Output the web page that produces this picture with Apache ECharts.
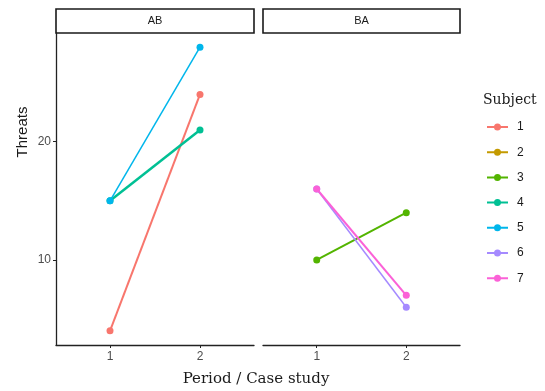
<!DOCTYPE html>
<html><head><meta charset="utf-8">
<script src="https://cdn.jsdelivr.net/npm/echarts@6/dist/echarts.min.js"></script>
<style>html,body{margin:0;padding:0;background:#fff}#c{width:545px;height:391px}</style>
</head><body><div id="c"></div>
<script>
const subjects = ['1','2','3','4','5','6','7'];
const sequences = ['AB','BA'];
const subjectSequence = ['AB', null, 'BA', 'AB', 'AB', 'BA', 'BA'];
const period1 = [4, null, 10, 15, 15, 16, 16];
const period2 = [24, null, 14, 21, 28, 6, 7];
const periodTicks = [1, 2];
const threatTicks = [10, 20];
const colors = ['#F8766D','#C49A00','#53B400','#00C094','#00B6EB','#A58AFF','#FB61D7'];
const lineWidths = [2, 2, 2, 2.5, 1.5, 1.5, 2];

const chart = echarts.init(document.getElementById('c'), null, {renderer:'canvas'});

const grids = [
  {left:56, top:33, width:198, height:312},
  {left:263, top:33, width:197, height:312}
];

const xAxes = sequences.map((s,i)=>({
  type:'value', gridIndex:i, min:0.4, max:2.6,
  axisLine:{show:true, lineStyle:{color:'#222', width:1.3}},
  axisTick:{show:true, length:3, lineStyle:{color:'#222'}, customValues: periodTicks},
  axisLabel:{show:true, color:'#4D4D4D', fontSize:12, fontFamily:'Liberation Sans', margin:6, customValues: periodTicks},
  splitLine:{show:false}
}));
const yAxes = sequences.map((s,i)=>({
  type:'value', gridIndex:i, min:2.8, max:29.2,
  show: i===0,
  axisLine:{show:true, lineStyle:{color:'#222', width:1.3}},
  axisTick:{show:true, length:3, lineStyle:{color:'#222'}, customValues: threatTicks},
  axisLabel:{show:true, color:'#4D4D4D', fontSize:12, fontFamily:'Liberation Sans', margin:5, customValues: threatTicks},
  splitLine:{show:false}
}));

const series = subjects.map((name,k)=>{
  const seq = subjectSequence[k];
  const gi = seq === null ? 0 : sequences.indexOf(seq);
  const data = (period1[k] === null) ? [] : [[periodTicks[0], period1[k]], [periodTicks[1], period2[k]]];
  return {
    name, type:'line', xAxisIndex:gi, yAxisIndex:gi, data,
    symbol:'circle', symbolSize:7,
    lineStyle:{width:lineWidths[k], color:colors[k]},
    itemStyle:{color:colors[k]},
    animation:false, silent:true
  };
});

const strips = sequences.map((s,i)=>({
  type:'group',
  children:[
    {type:'rect', shape:{x:grids[i].left, y:9, width:grids[i].width, height:24},
     style:{fill:'#fff', stroke:'#1a1a1a', lineWidth:1.6}},
    {type:'text', x:grids[i].left + grids[i].width/2, y:21,
     style:{text:s, fill:'#1a1a1a', font:'11px "Liberation Sans"', align:'center', verticalAlign:'middle'}}
  ]
}));

chart.setOption({
  backgroundColor:'#fff',
  color: colors,
  grid: grids,
  xAxis: xAxes,
  yAxis: yAxes,
  series,
  legend:{
    orient:'vertical', left:487, top:121, padding:0,
    data: subjects,
    icon:'path://M0,5L21,5L21,7L0,7Z M10.5,2.5A3.5,3.5 0 1 1 10.49,2.5Z',
    itemWidth:21, itemHeight:12, itemGap:13.2,
    textStyle:{color:'#1a1a1a', fontSize:12, fontFamily:'Liberation Sans', padding:[0,0,0,4]},
    selectedMode:false
  },
  graphic:[
    ...strips,
    {type:'text', x:483, y:100, style:{text:'Subject', fill:'#1a1a1a', font:'14px "DejaVu Serif"', align:'left', verticalAlign:'middle'}},
    {type:'text', x:256, y:379, style:{text:'Period / Case study', fill:'#1a1a1a', font:'15px "DejaVu Serif"', align:'center', verticalAlign:'middle'}},
    {type:'text', x:23, y:132, rotation:Math.PI/2, style:{text:'Threats', fill:'#1a1a1a', font:'15px "Liberation Sans"', align:'center', verticalAlign:'middle'}}
  ]
});
</script></body></html>
